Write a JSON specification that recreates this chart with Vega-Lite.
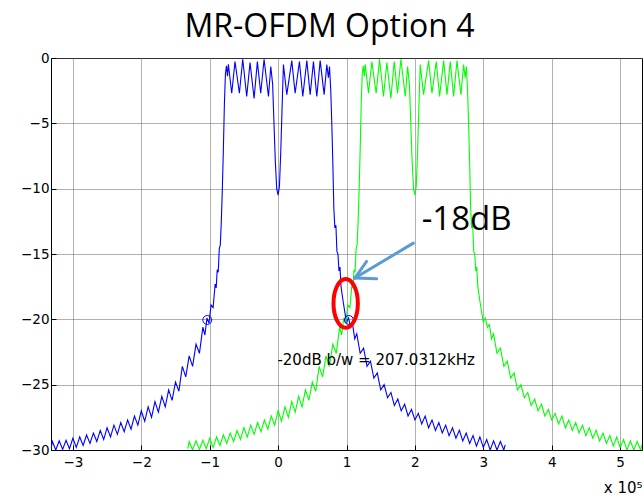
{
  "$schema": "https://vega.github.io/schema/vega-lite/v6.json",
  "width": 591,
  "height": 392,
  "autosize": {"type": "none"},
  "padding": {"left": 51, "top": 58, "right": 2, "bottom": 48},
  "background": "white",
  "title": {"text": "MR-OFDM Option 4", "font": "Open Sans", "fontSize": 32, "fontWeight": "normal", "color": "black", "anchor": "middle", "dx": -17, "offset": 7},
  "config": {
    "view": {"stroke": "black", "strokeWidth": 1},
    "axis": {
      "grid": true, "gridColor": "#606060", "gridDash": [1, 1], "gridWidth": 1,
      "domainColor": "black", "tickColor": "black", "tickSize": -5,
      "labelFont": "DejaVu Sans", "labelFontSize": 13.5, "labelColor": "black",
      "titleFont": "DejaVu Sans", "titleFontWeight": "normal", "titleColor": "black"
    }
  },
  "datasets": {
    "blue": [
      {"x":-3.32,"y":-29.9},{"x":-3.30,"y":-29.35},{"x":-3.25,"y":-30.0},{"x":-3.20,"y":-29.3},{"x":-3.15,"y":-29.95},{"x":-3.10,"y":-29.25},{"x":-3.05,"y":-29.9},{"x":-3.00,"y":-29.1},{"x":-2.95,"y":-29.8},{"x":-2.90,"y":-29.0},{"x":-2.85,"y":-29.65},{"x":-2.80,"y":-28.85},{"x":-2.75,"y":-29.5},{"x":-2.70,"y":-28.7},{"x":-2.65,"y":-29.35},{"x":-2.60,"y":-28.5},{"x":-2.55,"y":-29.2},{"x":-2.50,"y":-28.3},{"x":-2.45,"y":-29.0},{"x":-2.40,"y":-28.1},{"x":-2.35,"y":-28.8},{"x":-2.30,"y":-27.9},{"x":-2.25,"y":-28.6},{"x":-2.20,"y":-27.7},{"x":-2.15,"y":-28.4},{"x":-2.10,"y":-27.4},{"x":-2.05,"y":-28.1},{"x":-2.00,"y":-27.0},{"x":-1.95,"y":-27.8},{"x":-1.90,"y":-26.7},{"x":-1.85,"y":-27.5},{"x":-1.80,"y":-26.3},{"x":-1.75,"y":-27.1},{"x":-1.70,"y":-25.9},{"x":-1.65,"y":-26.7},{"x":-1.60,"y":-25.4},{"x":-1.55,"y":-26.2},{"x":-1.50,"y":-24.8},{"x":-1.45,"y":-25.5},{"x":-1.40,"y":-23.6},{"x":-1.35,"y":-24.4},{"x":-1.30,"y":-22.8},{"x":-1.25,"y":-23.6},{"x":-1.20,"y":-21.9},{"x":-1.15,"y":-22.6},{"x":-1.10,"y":-20.6},{"x":-1.07,"y":-21.2},{"x":-1.04,"y":-19.9},{"x":-1.01,"y":-20.3},{"x":-0.98,"y":-18.9},{"x":-0.95,"y":-19.1},{"x":-0.92,"y":-17.3},{"x":-0.905,"y":-17.6},{"x":-0.89,"y":-16.2},{"x":-0.875,"y":-16.4},{"x":-0.86,"y":-14.6},{"x":-0.845,"y":-14.3},{"x":-0.83,"y":-12.5},{"x":-0.815,"y":-10.0},{"x":-0.80,"y":-7.0},{"x":-0.785,"y":-3.5},{"x":-0.77,"y":-1.2},{"x":-0.755,"y":-0.6},{"x":-0.74,"y":-1.4},{"x":-0.727,"y":-0.48},{"x":-0.678,"y":-2.7},{"x":-0.630,"y":-0.28},{"x":-0.566,"y":-2.7},{"x":-0.517,"y":-0.1},{"x":-0.459,"y":-2.95},{"x":-0.410,"y":-0.35},{"x":-0.351,"y":-3.1},{"x":-0.303,"y":-0.28},{"x":-0.254,"y":-2.7},{"x":-0.205,"y":-0.1},{"x":-0.141,"y":-2.95},{"x":-0.107,"y":-0.66},{"x":-0.08,"y":-2.0},{"x":-0.06,"y":-5.0},{"x":-0.04,"y":-8.0},{"x":-0.02,"y":-10.0},{"x":0.0,"y":-10.5},{"x":0.02,"y":-9.8},{"x":0.04,"y":-7.0},{"x":0.06,"y":-3.5},{"x":0.078,"y":-0.5},{"x":0.127,"y":-2.8},{"x":0.200,"y":-0.2},{"x":0.249,"y":-2.7},{"x":0.312,"y":-0.28},{"x":0.361,"y":-2.95},{"x":0.420,"y":-0.2},{"x":0.469,"y":-2.8},{"x":0.517,"y":-0.28},{"x":0.566,"y":-2.95},{"x":0.615,"y":-0.2},{"x":0.673,"y":-2.8},{"x":0.712,"y":-0.5},{"x":0.735,"y":-1.5},{"x":0.752,"y":-0.66},{"x":0.77,"y":-2.5},{"x":0.785,"y":-5.0},{"x":0.80,"y":-8.0},{"x":0.815,"y":-11.5},{"x":0.83,"y":-13.0},{"x":0.845,"y":-12.8},{"x":0.86,"y":-14.8},{"x":0.875,"y":-15.0},{"x":0.89,"y":-16.3},{"x":0.905,"y":-16.0},{"x":0.92,"y":-17.5},{"x":0.95,"y":-18.6},{"x":0.98,"y":-19.6},{"x":1.00,"y":-20.2},{"x":1.03,"y":-19.9},{"x":1.06,"y":-20.6},{"x":1.09,"y":-20.4},{"x":1.12,"y":-21.5},{"x":1.15,"y":-21.1},{"x":1.20,"y":-22.6},{"x":1.25,"y":-22.2},{"x":1.30,"y":-23.6},{"x":1.35,"y":-23.2},{"x":1.40,"y":-24.5},{"x":1.45,"y":-24.1},{"x":1.50,"y":-25.4},{"x":1.55,"y":-25.0},{"x":1.60,"y":-26.0},{"x":1.65,"y":-25.6},{"x":1.70,"y":-26.6},{"x":1.75,"y":-26.1},{"x":1.80,"y":-27.0},{"x":1.85,"y":-26.5},{"x":1.90,"y":-27.4},{"x":1.95,"y":-26.9},{"x":2.00,"y":-27.7},{"x":2.05,"y":-27.2},{"x":2.10,"y":-28.0},{"x":2.15,"y":-27.4},{"x":2.20,"y":-28.3},{"x":2.25,"y":-27.7},{"x":2.30,"y":-28.5},{"x":2.35,"y":-27.9},{"x":2.40,"y":-28.7},{"x":2.45,"y":-28.1},{"x":2.50,"y":-28.9},{"x":2.55,"y":-28.3},{"x":2.60,"y":-29.1},{"x":2.65,"y":-28.5},{"x":2.70,"y":-29.3},{"x":2.75,"y":-28.7},{"x":2.80,"y":-29.5},{"x":2.85,"y":-28.9},{"x":2.90,"y":-29.7},{"x":2.95,"y":-29.0},{"x":3.00,"y":-29.8},{"x":3.05,"y":-29.2},{"x":3.10,"y":-30.0},{"x":3.15,"y":-29.3},{"x":3.20,"y":-30.0},{"x":3.25,"y":-29.35},{"x":3.30,"y":-30.0},{"x":3.32,"y":-29.6}
    ],
    "green": [
      {"x":-1.32,"y":-29.9},{"x":-1.30,"y":-29.35},{"x":-1.25,"y":-30.0},{"x":-1.20,"y":-29.3},{"x":-1.15,"y":-29.95},{"x":-1.10,"y":-29.25},{"x":-1.05,"y":-29.9},{"x":-1.00,"y":-29.1},{"x":-0.95,"y":-29.8},{"x":-0.90,"y":-29.0},{"x":-0.85,"y":-29.65},{"x":-0.80,"y":-28.85},{"x":-0.75,"y":-29.5},{"x":-0.70,"y":-28.7},{"x":-0.65,"y":-29.35},{"x":-0.60,"y":-28.5},{"x":-0.55,"y":-29.2},{"x":-0.50,"y":-28.3},{"x":-0.45,"y":-29.0},{"x":-0.40,"y":-28.1},{"x":-0.35,"y":-28.8},{"x":-0.30,"y":-27.9},{"x":-0.25,"y":-28.6},{"x":-0.20,"y":-27.7},{"x":-0.15,"y":-28.4},{"x":-0.10,"y":-27.4},{"x":-0.05,"y":-28.1},{"x":0.00,"y":-27.0},{"x":0.05,"y":-27.8},{"x":0.10,"y":-26.7},{"x":0.15,"y":-27.5},{"x":0.20,"y":-26.3},{"x":0.25,"y":-27.1},{"x":0.30,"y":-25.9},{"x":0.35,"y":-26.7},{"x":0.40,"y":-25.4},{"x":0.45,"y":-26.2},{"x":0.50,"y":-24.8},{"x":0.55,"y":-25.5},{"x":0.60,"y":-23.6},{"x":0.65,"y":-24.4},{"x":0.70,"y":-22.8},{"x":0.75,"y":-23.6},{"x":0.80,"y":-21.9},{"x":0.85,"y":-22.6},{"x":0.90,"y":-20.6},{"x":0.93,"y":-21.2},{"x":0.96,"y":-19.9},{"x":0.99,"y":-20.3},{"x":1.02,"y":-18.9},{"x":1.05,"y":-19.1},{"x":1.08,"y":-17.3},{"x":1.095,"y":-17.6},{"x":1.11,"y":-16.2},{"x":1.125,"y":-16.4},{"x":1.14,"y":-14.6},{"x":1.155,"y":-14.3},{"x":1.17,"y":-12.5},{"x":1.185,"y":-10.0},{"x":1.20,"y":-7.0},{"x":1.215,"y":-3.5},{"x":1.23,"y":-1.2},{"x":1.245,"y":-0.6},{"x":1.26,"y":-1.4},{"x":1.273,"y":-0.48},{"x":1.322,"y":-2.7},{"x":1.370,"y":-0.28},{"x":1.434,"y":-2.7},{"x":1.483,"y":-0.1},{"x":1.541,"y":-2.95},{"x":1.590,"y":-0.35},{"x":1.649,"y":-3.1},{"x":1.697,"y":-0.28},{"x":1.746,"y":-2.7},{"x":1.795,"y":-0.1},{"x":1.859,"y":-2.95},{"x":1.893,"y":-0.66},{"x":1.92,"y":-2.0},{"x":1.94,"y":-5.0},{"x":1.96,"y":-8.0},{"x":1.98,"y":-10.0},{"x":2.0,"y":-10.5},{"x":2.02,"y":-9.8},{"x":2.04,"y":-7.0},{"x":2.06,"y":-3.5},{"x":2.078,"y":-0.5},{"x":2.127,"y":-2.8},{"x":2.200,"y":-0.2},{"x":2.249,"y":-2.7},{"x":2.312,"y":-0.28},{"x":2.361,"y":-2.95},{"x":2.420,"y":-0.2},{"x":2.469,"y":-2.8},{"x":2.517,"y":-0.28},{"x":2.566,"y":-2.95},{"x":2.615,"y":-0.2},{"x":2.673,"y":-2.8},{"x":2.712,"y":-0.5},{"x":2.735,"y":-1.5},{"x":2.752,"y":-0.66},{"x":2.77,"y":-2.5},{"x":2.785,"y":-5.0},{"x":2.80,"y":-8.0},{"x":2.815,"y":-11.5},{"x":2.83,"y":-13.0},{"x":2.845,"y":-12.8},{"x":2.86,"y":-14.8},{"x":2.875,"y":-15.0},{"x":2.89,"y":-16.3},{"x":2.905,"y":-16.0},{"x":2.92,"y":-17.5},{"x":2.95,"y":-18.6},{"x":2.98,"y":-19.6},{"x":3.00,"y":-20.2},{"x":3.03,"y":-19.9},{"x":3.06,"y":-20.6},{"x":3.09,"y":-20.4},{"x":3.12,"y":-21.5},{"x":3.15,"y":-21.1},{"x":3.20,"y":-22.6},{"x":3.25,"y":-22.2},{"x":3.30,"y":-23.6},{"x":3.35,"y":-23.2},{"x":3.40,"y":-24.5},{"x":3.45,"y":-24.1},{"x":3.50,"y":-25.4},{"x":3.55,"y":-25.0},{"x":3.60,"y":-26.0},{"x":3.65,"y":-25.6},{"x":3.70,"y":-26.6},{"x":3.75,"y":-26.1},{"x":3.80,"y":-27.0},{"x":3.85,"y":-26.5},{"x":3.90,"y":-27.4},{"x":3.95,"y":-26.9},{"x":4.00,"y":-27.7},{"x":4.05,"y":-27.2},{"x":4.10,"y":-28.0},{"x":4.15,"y":-27.4},{"x":4.20,"y":-28.3},{"x":4.25,"y":-27.7},{"x":4.30,"y":-28.5},{"x":4.35,"y":-27.9},{"x":4.40,"y":-28.7},{"x":4.45,"y":-28.1},{"x":4.50,"y":-28.9},{"x":4.55,"y":-28.3},{"x":4.60,"y":-29.1},{"x":4.65,"y":-28.5},{"x":4.70,"y":-29.3},{"x":4.75,"y":-28.7},{"x":4.80,"y":-29.5},{"x":4.85,"y":-28.9},{"x":4.90,"y":-29.7},{"x":4.95,"y":-29.0},{"x":5.00,"y":-29.8},{"x":5.05,"y":-29.2},{"x":5.10,"y":-30.0},{"x":5.15,"y":-29.3},{"x":5.20,"y":-30.0},{"x":5.25,"y":-29.35},{"x":5.30,"y":-30.0},{"x":5.32,"y":-29.6}
    ]
  },
  "encoding": {
    "x": {"field": "x", "type": "quantitative",
      "scale": {"domain": [-3.32, 5.32], "nice": false, "zero": false},
      "axis": {"values": [-3, -2, -1, 0, 1, 2, 3, 4, 5], "labelPadding": 10, "title": "x 10⁵", "titleFontSize": 15, "titleAnchor": "end", "titleAlign": "right", "titlePadding": 12}},
    "y": {"field": "y", "type": "quantitative",
      "scale": {"domain": [-30, 0], "nice": false, "zero": false},
      "axis": {"values": [0, -5, -10, -15, -20, -25, -30], "labelPadding": 7, "title": null}}
  },
  "layer": [
    {"data": {"name": "blue"}, "mark": {"type": "line", "color": "#0000ff", "strokeWidth": 1.1, "clip": true}},
    {"data": {"name": "green"}, "mark": {"type": "line", "color": "#00ff00", "strokeWidth": 1.1, "clip": true}},
    {"data": {"values": [{"x": -1.035, "y": -20.05}, {"x": 1.035, "y": -20.05}]},
      "mark": {"type": "point", "shape": "circle", "filled": false, "color": "#0000ff", "size": 80, "strokeWidth": 1, "opacity": 1}},
    {"data": {"values": [{"x": 0.988, "y": -18.78}]},
      "mark": {"type": "point", "shape": "M0,-1A0.5,1,0,1,1,0,1A0.5,1,0,1,1,0,-1Z", "filled": false, "color": "#ff0000", "size": 2372, "strokeWidth": 4, "opacity": 1}},
    {"data": {"values": [
        {"x": 1.977, "y": -14.17, "x2": 1.123, "y2": -16.84},
        {"x": 1.123, "y": -16.84, "x2": 1.294, "y2": -15.57},
        {"x": 1.123, "y": -16.84, "x2": 1.441, "y2": -16.9}]},
      "mark": {"type": "rule", "color": "#5b9bd5", "strokeWidth": 3, "strokeCap": "round"},
      "encoding": {"x2": {"field": "x2"}, "y2": {"field": "y2"}}},
    {"data": {"values": [{"x": 2.1, "y": -13.15, "label": "-18dB"}]},
      "mark": {"type": "text", "align": "left", "baseline": "alphabetic", "font": "Open Sans", "fontSize": 33, "color": "black"},
      "encoding": {"text": {"field": "label"}}},
    {"data": {"values": [{"x": -0.01, "y": -23.47, "label": "-20dB b/w = 207.0312kHz"}]},
      "mark": {"type": "text", "align": "left", "baseline": "alphabetic", "font": "DejaVu Sans", "fontSize": 15, "color": "black"},
      "encoding": {"text": {"field": "label"}}}
  ]
}
